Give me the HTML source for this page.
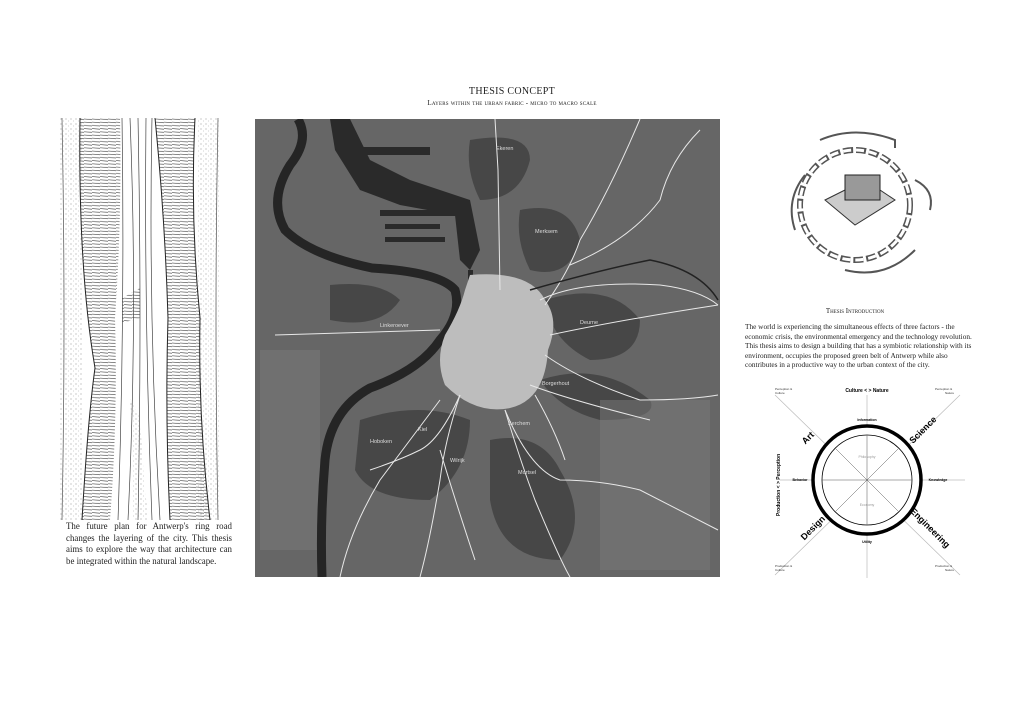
<!DOCTYPE html>
<html><head><meta charset="utf-8"><style>
body{margin:0;width:1024px;height:724px;background:#fff;position:relative;overflow:hidden;font-family:"Liberation Serif",serif;color:#222}
.t{position:absolute;white-space:nowrap}
</style></head><body>
<div class="t" style="left:0;width:1024px;top:86px;text-align:center;font-size:10px;letter-spacing:.3px">THESIS CONCEPT</div>
<div class="t" style="left:0;width:1024px;top:99px;text-align:center;font-size:7px;font-variant:small-caps;letter-spacing:.2px">Layers within the urban fabric - micro to macro scale</div>

<svg style="position:absolute;left:60px;top:118px" width="160" height="402">
<defs>
<pattern id="h" width="8" height="3.2" patternUnits="userSpaceOnUse"><path d="M0 1 L8 1.6" stroke="#444" stroke-width=".6"/></pattern>
<pattern id="d" width="5" height="5" patternUnits="userSpaceOnUse"><circle cx="1" cy="1" r=".5" fill="#777"/><circle cx="3.5" cy="3" r=".4" fill="#999"/></pattern>
</defs>
<rect width="160" height="402" fill="#fff"/>
<rect x="0" width="22" height="402" fill="url(#d)"/>
<rect x="138" width="22" height="402" fill="url(#d)"/>
<path d="M20 0 L60 0 Q62 100 55 200 Q58 300 50 402 L22 402 Q28 300 35 250 Q18 150 20 0Z" fill="url(#h)"/>
<path d="M95 0 L135 0 Q130 100 140 200 Q138 300 150 402 L110 402 Q105 300 108 200 Q105 100 95 0Z" fill="url(#h)"/>
<path d="M62 180 L80 170 L80 200 L62 205Z" fill="url(#h)"/>
<path d="M70 280 Q75 340 72 402 L88 402 Q82 340 80 300Z" fill="url(#d)"/>
<g stroke="#222" fill="none" stroke-width="1"><path d="M20 0 Q18 150 35 250 Q28 300 22 402"/><path d="M95 0 Q105 100 108 200 Q105 300 110 402"/><path d="M135 0 Q130 100 140 200 Q138 300 150 402"/></g>
<g stroke="#444" fill="none" stroke-width=".7"><path d="M62 0 Q65 200 58 402"/><path d="M70 0 Q78 200 68 402"/><path d="M78 0 Q82 200 78 402"/><path d="M86 0 Q84 200 92 402"/><path d="M92 0 Q88 200 100 402"/></g>
<path d="M2 0 Q6 200 2 402 M158 0 Q154 200 158 402" stroke="#666" fill="none" stroke-width=".8"/>
</svg>
<div class="t" style="left:66px;top:521px;font-size:8.9px;line-height:11.5px;white-space:normal;width:166px;text-align:justify">The future plan for Antwerp's ring road changes the layering of the city. This thesis aims to explore the way that architecture can be integrated within the natural landscape.</div>

<svg style="position:absolute;left:255px;top:119px" width="465" height="458" viewBox="255 119 465 458">
<rect x="255" y="119" width="465" height="458" fill="#666"/>
<g fill="#404040" opacity=".8">
<path d="M470 140 Q530 130 530 160 Q520 200 480 200 Q465 170 470 140Z"/>
<path d="M520 210 Q570 200 580 240 Q570 280 530 270 Q515 240 520 210Z"/>
<path d="M545 300 Q610 280 640 320 Q640 360 590 360 Q550 340 545 300Z"/>
<path d="M540 380 Q600 360 650 400 Q660 420 600 420 Q560 410 540 380Z"/>
<path d="M360 420 Q420 400 470 420 Q470 470 430 500 Q370 500 355 470Z"/>
<path d="M490 440 Q540 430 560 470 Q590 520 560 560 Q500 560 490 500Z"/>
<path d="M330 285 Q380 280 400 300 Q380 330 330 320Z"/>
</g>
<g fill="#7a7a7a" opacity=".5"><rect x="600" y="400" width="110" height="170"/><rect x="260" y="350" width="60" height="200"/></g>
<g fill="#2a2a2a">
<path d="M330 119 L350 119 L370 160 L410 180 L470 200 L480 250 L470 270 L460 260 L455 215 L400 205 L360 190 L335 150Z"/>
<rect x="360" y="147" width="70" height="8"/><rect x="360" y="180" width="40" height="6"/>
<rect x="380" y="210" width="80" height="6"/><rect x="385" y="224" width="55" height="5"/><rect x="385" y="237" width="60" height="5"/>
<rect x="468" y="270" width="5" height="35"/><rect x="475" y="275" width="4" height="20"/>
</g>
<path d="M298 119 Q310 140 290 165 Q268 200 285 230 Q310 255 372 268 Q440 272 455 290 Q462 315 440 340 Q420 370 370 388 Q330 410 325 460 Q320 520 322 577" fill="none" stroke="#252525" stroke-width="9"/>
<path d="M470 275 Q530 270 545 300 Q560 320 548 350 Q545 400 510 408 Q475 415 445 385 Q435 360 445 335 Q460 310 465 290Z" fill="#bdbdbd"/>
<g fill="none" stroke="#e8e8e8" stroke-width="1">
<path d="M495 119 L498 170 L500 290"/>
<path d="M275 335 L440 330"/>
<path d="M540 300 Q580 280 660 285 Q700 290 718 305"/>
<path d="M550 335 Q620 320 718 305"/>
<path d="M545 355 Q580 380 640 400 Q690 400 718 395"/>
<path d="M530 385 Q570 400 650 420"/>
<path d="M545 305 Q570 270 580 240 Q610 190 640 119"/>
<path d="M570 265 Q630 240 660 200 Q670 160 700 130"/>
<path d="M505 410 Q520 460 535 500 Q560 560 570 577"/>
<path d="M505 410 Q530 470 560 480 Q600 480 640 490 L718 530"/>
<path d="M460 395 Q445 440 440 480 Q430 540 420 577"/>
<path d="M460 395 Q440 440 420 450 Q400 460 370 470"/>
<path d="M440 400 Q410 440 380 480 Q350 530 340 577"/>
<path d="M440 450 Q455 500 475 560"/>
<path d="M535 395 Q555 430 565 460"/>
</g>
<path d="M530 290 Q600 270 650 260 Q700 270 718 300" fill="none" stroke="#222" stroke-width="1.5"/>
<g fill="#ddd" font-family="Liberation Sans,sans-serif" font-size="5.5">
<text x="496" y="150">Ekeren</text><text x="535" y="233">Merksem</text><text x="580" y="324">Deurne</text>
<text x="380" y="327">Linkeroever</text><text x="542" y="385">Borgerhout</text><text x="508" y="425">Berchem</text>
<text x="370" y="443">Hoboken</text><text x="418" y="431">Kiel</text><text x="450" y="462">Wilrijk</text><text x="518" y="474">Mortsel</text>
</g>
</svg>

<svg style="position:absolute;left:765px;top:120px" width="180" height="170">
<circle cx="90" cy="85" r="55" fill="none" stroke="#555" stroke-width="6" stroke-dasharray="10 3"/>
<circle cx="90" cy="85" r="55" fill="none" stroke="#fff" stroke-width="3" stroke-dasharray="8 5"/>
<path d="M60 80 L100 60 L130 80 L90 105Z" fill="#ccc" stroke="#333"/>
<rect x="80" y="55" width="35" height="25" fill="#999" stroke="#222"/>
<g fill="none" stroke="#555" stroke-width="2"><path d="M55 20 Q90 5 130 20 l0 8"/><path d="M150 60 Q170 70 165 90"/><path d="M150 130 Q120 160 80 150"/><path d="M30 110 Q20 80 40 55"/></g>
</svg>

<div class="t" style="left:740px;top:307px;width:230px;text-align:center;font-size:7px;font-variant:small-caps">Thesis Introduction</div>
<div class="t" style="left:745px;top:322px;width:228px;white-space:normal;font-size:7.3px;line-height:9.6px">The world is experiencing the simultaneous effects of three factors - the economic crisis, the environmental emergency and the technology revolution. This thesis aims to design a building that has a symbiotic relationship with its environment, occupies the proposed green belt of Antwerp while also contributes in a productive way to the urban context of the city.</div>

<svg style="position:absolute;left:740px;top:380px" width="240" height="200" viewBox="740 380 240 200" font-family="Liberation Sans,sans-serif">
<g stroke="#bbb" stroke-width=".7"><line x1="775" y1="395" x2="960" y2="575"/><line x1="960" y1="395" x2="775" y2="575"/><line x1="867" y1="395" x2="867" y2="578"/><line x1="780" y1="480" x2="965" y2="480"/></g>
<circle cx="867" cy="480" r="54" fill="#fff" stroke="#000" stroke-width="3.5"/>
<circle cx="867" cy="480" r="45" fill="none" stroke="#000" stroke-width=".8"/>
<g stroke="#555" stroke-width=".5"><line x1="835" y1="448" x2="899" y2="512"/><line x1="899" y1="448" x2="835" y2="512"/><line x1="867" y1="435" x2="867" y2="525"/><line x1="822" y1="480" x2="912" y2="480"/></g>
<g font-size="3.5" fill="#000" text-anchor="middle" font-weight="bold"><text x="867" y="421">Information</text><text x="867" y="543">Utility</text><text x="800" y="481">Behavior</text><text x="938" y="481">Knowledge</text></g>
<g font-size="3.5" fill="#999" text-anchor="middle"><text x="867" y="458">Philosophy</text><text x="867" y="506">Economy</text></g>
<text x="867" y="392" font-size="5" font-weight="bold" text-anchor="middle">Culture &lt; &gt; Nature</text>
<text transform="translate(780 485) rotate(-90)" font-size="5" font-weight="bold" text-anchor="middle">Production &lt; &gt; Perception</text>
<g font-size="9" font-weight="bold"><text transform="translate(810 440) rotate(-45)" text-anchor="middle">Art</text><text transform="translate(925 432) rotate(-45)" text-anchor="middle">Science</text><text transform="translate(815 530) rotate(-45)" text-anchor="middle">Design</text><text transform="translate(928 530) rotate(45)" text-anchor="middle">Engineering</text></g>
<g font-size="3" fill="#333"><text x="775" y="390">Perception &amp;</text><text x="775" y="394">Culture</text><text x="935" y="390">Perception &amp;</text><text x="945" y="394">Nature</text><text x="775" y="567">Production &amp;</text><text x="775" y="571">Culture</text><text x="935" y="567">Production &amp;</text><text x="945" y="571">Nature</text></g>
</svg>
</body></html>
